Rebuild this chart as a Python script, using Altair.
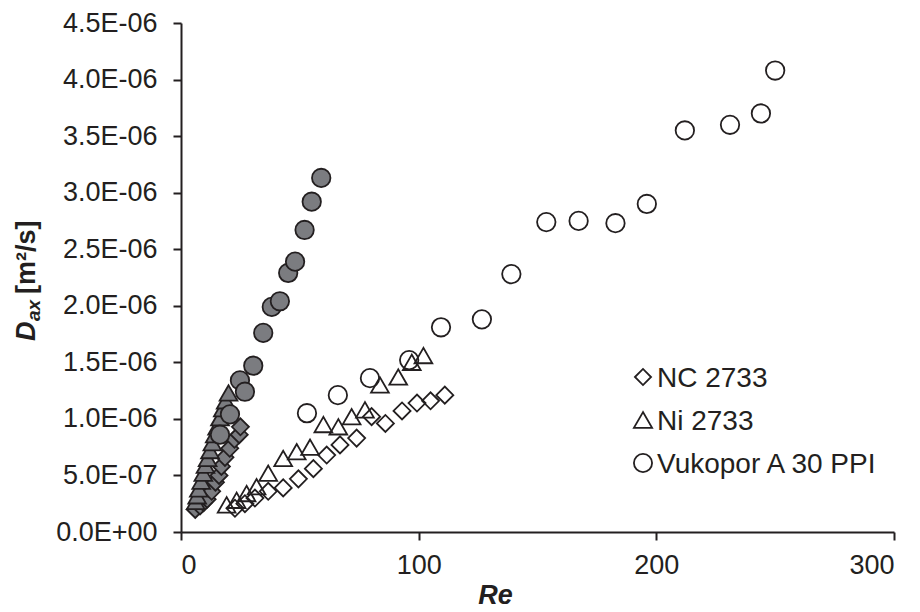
import altair as alt
import pandas as pd

# ---- data (Re, D_ax in m2/s) ----
nc_fill_re = [6, 8, 9.5, 11, 12.9, 14.5, 16, 17, 18.5, 20.5, 22.5, 24.5, 25]
nc_fill_d = [2.0e-7, 2.3e-7, 2.6e-7, 2.9e-7, 3.6e-7, 4.4e-7, 5.0e-7, 5.8e-7, 6.6e-7, 7.4e-7, 8.2e-7, 8.6e-7, 9.3e-7]

ni_fill_re = [6.2, 6.8, 7.5, 8.5, 9.4, 10.3, 11.2, 12.2, 13.2, 14.2, 15.2, 16.4, 17.6, 18.8, 20]
ni_fill_d = [2.7e-7, 3.2e-7, 3.8e-7, 4.5e-7, 5.2e-7, 5.9e-7, 6.5e-7, 7.2e-7, 7.9e-7, 8.6e-7, 9.3e-7, 1.01e-6, 1.09e-6, 1.16e-6, 1.23e-6]

vu_fill_re = [16.4, 20.6, 24.8, 26.9, 30.4, 34.6, 38.2, 41.6, 45.1, 48, 52, 55, 59]
vu_fill_d = [8.6e-7, 1.04e-6, 1.34e-6, 1.24e-6, 1.47e-6, 1.76e-6, 1.99e-6, 2.04e-6, 2.29e-6, 2.39e-6, 2.67e-6, 2.92e-6, 3.13e-6]

nc_open_re = [22.7, 26.9, 31.1, 36.7, 43, 49.4, 55.7, 61.3, 66.9, 73.9, 80.2, 86, 93, 99.3, 105, 111]
nc_open_d = [2.1e-7, 2.5e-7, 3.0e-7, 3.6e-7, 3.9e-7, 4.7e-7, 5.6e-7, 6.8e-7, 7.7e-7, 8.3e-7, 1.02e-6, 9.6e-7, 1.07e-6, 1.14e-6, 1.16e-6, 1.21e-6]

ni_open_re = [19.2, 23.4, 27.6, 31.8, 36.7, 43.0, 48.7, 54.3, 59.9, 66.2, 71.8, 77.4, 83.7, 91.4, 97.1, 102]
ni_open_d = [2.4e-7, 2.8e-7, 3.4e-7, 4.0e-7, 5.2e-7, 6.5e-7, 7.1e-7, 7.5e-7, 9.5e-7, 9.3e-7, 1.02e-6, 1.08e-6, 1.30e-6, 1.37e-6, 1.50e-6, 1.56e-6]

vu_open_re = [53, 66, 79.5, 96, 109.4, 126.6, 139, 153.7, 167.3, 182.8, 196, 212, 231, 244, 250]
vu_open_d = [1.05e-6, 1.21e-6, 1.36e-6, 1.52e-6, 1.81e-6, 1.88e-6, 2.28e-6, 2.74e-6, 2.75e-6, 2.73e-6, 2.90e-6, 3.55e-6, 3.60e-6, 3.70e-6, 4.08e-6]

series_names = ["NC 2733", "Ni 2733", "Vukopor A 30 PPI"]
shapes = ["diamond", "triangle-up", "circle"]
x_ticks = [0, 100, 200, 300]
y_ticks = [0, 5e-7, 1e-6, 1.5e-6, 2e-6, 2.5e-6, 3e-6, 3.5e-6, 4e-6, 4.5e-6]
y_title_parts = ["D", "ax", "[m²/s]"]

INK = "#231f20"
GRAY = "#7b7c80"
FONT = "Liberation Sans"
FS = 27


def frame(re, d, name):
    return pd.DataFrame({"Re": re, "D": d, "series": name})


open_df = pd.concat([
    frame(vu_open_re, vu_open_d, series_names[2]),
    frame(nc_open_re, nc_open_d, series_names[0]),
    frame(ni_open_re, ni_open_d, series_names[1]),
], ignore_index=True)

fill_df = pd.concat([
    frame(nc_fill_re, nc_fill_d, series_names[0]),
    frame(ni_fill_re, ni_fill_d, series_names[1]),
    frame(vu_fill_re, vu_fill_d, series_names[2]),
], ignore_index=True)

x_enc = alt.X("Re:Q", scale=alt.Scale(domain=[0, 300], nice=False),
              axis=alt.Axis(values=x_ticks, title="Re", titleFontStyle="italic",
                            titleFontWeight="bold", titleX=314, titleY=50,
                            labelPadding=12))
y_enc = alt.Y("D:Q", scale=alt.Scale(domain=[0, 4.5e-6], nice=False),
              axis=alt.Axis(values=y_ticks, title=None, labelPadding=16,
                            labelExpr="datum.value == 0 ? '0.0E+00' : (datum.value < 9.9e-7 ? format(datum.value*1e7, '.1f') + 'E-07' : format(datum.value*1e6, '.1f') + 'E-06')"))

size_scale = alt.Scale(domain=series_names, range=[290, 340, 430])
shape_scale = alt.Scale(domain=series_names, range=shapes)

open_layer = alt.Chart(open_df).mark_point(
    filled=False, stroke=INK, strokeWidth=1.8, opacity=1
).encode(
    x=x_enc, y=y_enc,
    shape=alt.Shape("series:N", scale=shape_scale, legend=None),
    size=alt.Size("series:N", scale=size_scale, legend=None),
)

fill_layer = alt.Chart(fill_df).mark_point(
    filled=True, fill=GRAY, stroke=INK, strokeWidth=1.8, opacity=1, fillOpacity=1
).encode(
    x=x_enc, y=y_enc,
    shape=alt.Shape("series:N", scale=shape_scale, legend=None),
    size=alt.Size("series:N", scale=size_scale, legend=None),
)

# ---- manual legend ----
legend_layers = []
leg_sizes = [260, 330, 330]
for i, name in enumerate(series_names):
    one = pd.DataFrame({"label": [name]})
    legend_layers.append(
        alt.Chart(one).mark_point(shape=shapes[i], size=leg_sizes[i], filled=False,
                                  stroke=INK, strokeWidth=1.8, opacity=1)
        .encode(x=alt.value(462), y=alt.value(354 + 43 * i))
    )
    legend_layers.append(
        alt.Chart(one).mark_text(align="left", baseline="alphabetic", font=FONT,
                                 fontSize=28, color=INK)
        .encode(x=alt.value(476), y=alt.value(364 + 43 * i), text="label:N")
    )

# ---- y axis title: D (italic) with subscript ax ----
title_layers = []
t_specs = [
    (y_title_parts[0], -146, 318, FS, "italic"),
    (y_title_parts[1], -141, 298, 19, "italic"),
    (y_title_parts[2], -146, 271, FS, "normal"),
]
for txt, xv, yv, fs, style in t_specs:
    title_layers.append(
        alt.Chart(pd.DataFrame({"t": [txt]})).mark_text(
            align="left", baseline="alphabetic", angle=270, font=FONT, fontSize=fs,
            fontWeight="bold", fontStyle=style, color=INK
        ).encode(x=alt.value(xv), y=alt.value(yv), text="t:N")
    )

chart = alt.layer(open_layer, fill_layer, *legend_layers, *title_layers).properties(
    width=713, height=509,
    autosize=alt.AutoSizeParams(type="none"),
    padding={"left": 173, "top": 15, "right": 18, "bottom": 80},
).configure_view(stroke=None).configure_axis(
    grid=False, domainColor=INK, domainWidth=2, tickColor=INK, tickWidth=2, tickSize=8,
    labelFont=FONT, labelFontSize=FS, labelColor=INK,
    titleFont=FONT, titleFontSize=FS, titleColor=INK,
)

chart.save("out.html", embed_options={"renderer": "svg", "actions": False})
